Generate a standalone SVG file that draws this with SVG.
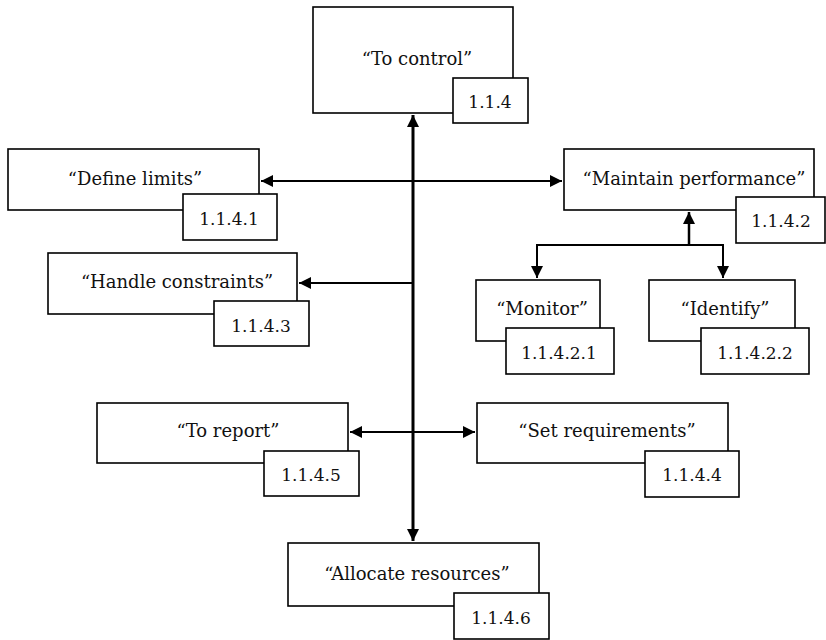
<svg xmlns="http://www.w3.org/2000/svg" width="826" height="640" viewBox="0 0 826 640">
  <defs>
    <style>
      .box { fill: #fff; stroke: #000; stroke-width: 1.6; }
      text { font-family: "DejaVu Serif", "Liberation Serif", serif; fill: #111; text-anchor: middle; }
      .lbl { font-size: 18px; }
      .num { font-size: 17px; }
      .wire { fill: none; stroke: #000; stroke-width: 2; }
      .trunk { fill: none; stroke: #000; stroke-width: 3; }
    </style>
    <marker id="arrow" viewBox="0 0 10 10" refX="10" refY="5" markerWidth="12" markerHeight="12" markerUnits="userSpaceOnUse" orient="auto-start-reverse">
      <path d="M0,0 L10,5 L0,10 Z" fill="#000"/>
    </marker>
  </defs>

  <!-- connectors -->
  <g id="connectors">
    <line class="trunk" x1="413" y1="115" x2="413" y2="541" marker-start="url(#arrow)" marker-end="url(#arrow)"/>
    <line class="wire" x1="261" y1="181" x2="562" y2="181" marker-start="url(#arrow)" marker-end="url(#arrow)"/>
    <line class="wire" x1="413" y1="283" x2="299" y2="283" marker-end="url(#arrow)"/>
    <line class="wire" x1="350" y1="432" x2="475" y2="432" marker-start="url(#arrow)" marker-end="url(#arrow)"/>
    <line class="wire" x1="689" y1="245" x2="689" y2="212" marker-end="url(#arrow)" style="stroke-width:2.5"/>
    <polyline class="wire" points="537,245 723,245"/>
    <line class="wire" x1="537" y1="244" x2="537" y2="278" marker-end="url(#arrow)"/>
    <line class="wire" x1="723" y1="244" x2="723" y2="278" marker-end="url(#arrow)"/>
  </g>

  <g id="n-1-1-4">
    <rect class="box" x="313" y="7" width="200" height="106"/>
    <text class="lbl" x="417" y="65">“To control”</text>
    <rect class="box" x="453" y="78" width="75" height="45"/>
    <text class="num" x="490" y="108">1.1.4</text>
  </g>

  <g id="n-1-1-4-1">
    <rect class="box" x="8" y="149" width="251" height="61"/>
    <text class="lbl" x="135" y="185">“Define limits”</text>
    <rect class="box" x="183" y="194" width="94" height="46"/>
    <text class="num" x="229" y="225">1.1.4.1</text>
  </g>

  <g id="n-1-1-4-2">
    <rect class="box" x="564" y="149" width="250" height="61"/>
    <text class="lbl" x="694" y="185">“Maintain performance”</text>
    <rect class="box" x="736" y="197" width="89" height="46"/>
    <text class="num" x="781" y="227">1.1.4.2</text>
  </g>

  <g id="n-1-1-4-3">
    <rect class="box" x="48" y="253" width="249" height="61"/>
    <text class="lbl" x="177" y="288">“Handle constraints”</text>
    <rect class="box" x="214" y="301" width="95" height="45"/>
    <text class="num" x="261" y="332">1.1.4.3</text>
  </g>

  <g id="n-1-1-4-2-1">
    <rect class="box" x="476" y="280" width="124" height="61"/>
    <text class="lbl" x="542" y="315">“Monitor”</text>
    <rect class="box" x="506" y="328" width="108" height="46"/>
    <text class="num" x="559" y="359">1.1.4.2.1</text>
  </g>

  <g id="n-1-1-4-2-2">
    <rect class="box" x="649" y="280" width="146" height="61"/>
    <text class="lbl" x="725" y="315">“Identify”</text>
    <rect class="box" x="701" y="328" width="108" height="46"/>
    <text class="num" x="755" y="359">1.1.4.2.2</text>
  </g>

  <g id="n-1-1-4-5">
    <rect class="box" x="97" y="403" width="251" height="60"/>
    <text class="lbl" x="228" y="437">“To report”</text>
    <rect class="box" x="264" y="451" width="95" height="45"/>
    <text class="num" x="311" y="481">1.1.4.5</text>
  </g>

  <g id="n-1-1-4-4">
    <rect class="box" x="477" y="403" width="251" height="60"/>
    <text class="lbl" x="607" y="437">“Set requirements”</text>
    <rect class="box" x="645" y="451" width="94" height="46"/>
    <text class="num" x="692" y="481">1.1.4.4</text>
  </g>

  <g id="n-1-1-4-6">
    <rect class="box" x="288" y="543" width="251" height="63"/>
    <text class="lbl" x="417" y="580">“Allocate resources”</text>
    <rect class="box" x="454" y="593" width="95" height="46"/>
    <text class="num" x="501" y="624">1.1.4.6</text>
  </g>
</svg>
